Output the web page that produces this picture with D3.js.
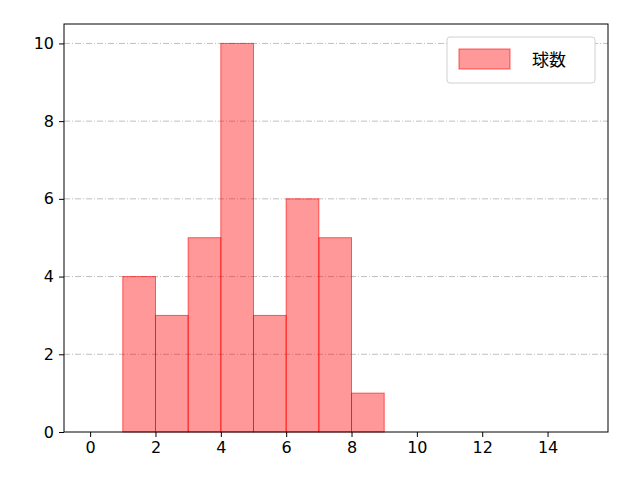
<!DOCTYPE html><html><head><meta charset="utf-8">
<script src="https://cdn.jsdelivr.net/npm/d3@7"></script>
<style>body{margin:0;background:#fff}</style></head><body>
<svg id="c" width="640" height="480"></svg>
<script>
const binStarts=[1,2,3,4,5,6,7,8];
const counts=[4,3,5,10,3,6,5,1];
const xTicks=[0,2,4,6,8,10,12,14];
const yTicks=[0,2,4,6,8,10];
const seriesName="球数";
const svg=d3.select("#c");
const L=64,R=608,T=24,B=432;
const x=d3.scaleLinear().domain([-0.8,15.85]).range([L,R]);
const y=d3.scaleLinear().domain([0,10.5]).range([B,T]);
const font="DejaVu Sans, sans-serif";
svg.append("g").selectAll("line").data(yTicks.slice(1)).join("line")
 .attr("x1",L).attr("x2",R).attr("y1",d=>y(d)).attr("y2",d=>y(d))
 .attr("stroke","#b0b0b0").attr("stroke-width",0.8).attr("stroke-dasharray","6,2,1,2");
svg.append("g").selectAll("rect").data(binStarts).join("rect")
 .attr("x",d=>x(d)).attr("width",d=>x(d+1)-x(d))
 .attr("y",(d,i)=>y(counts[i])).attr("height",(d,i)=>y(0)-y(counts[i]))
 .attr("fill","rgba(255,0,0,0.4)").attr("stroke","rgba(255,0,0,0.6)").attr("stroke-width",1);
const xa=svg.append("g").attr("transform",`translate(0,${B})`).call(d3.axisBottom(x).tickValues(xTicks).tickSize(5).tickPadding(5));
const ya=svg.append("g").attr("transform",`translate(${L},0)`).call(d3.axisLeft(y).tickValues(yTicks).tickSize(5).tickPadding(5));
[xa,ya].forEach(a=>{a.select(".domain").remove();a.selectAll("text").attr("font-size",16).attr("font-family",font).attr("fill","#000");a.selectAll("line").attr("stroke","#000");});
svg.append("rect").attr("x",L).attr("y",T).attr("width",R-L).attr("height",B-T).attr("fill","none").attr("stroke","#000");
const lg=svg.append("g");
lg.append("rect").attr("x",447).attr("y",37).attr("width",148).attr("height",46).attr("rx",3).attr("fill","#fff").attr("stroke","#d0d0d0");
lg.append("rect").attr("x",459).attr("y",49).attr("width",51).attr("height",20).attr("fill","rgba(255,0,0,0.4)").attr("stroke","rgba(255,0,0,0.6)");
lg.append("text").attr("x",532).attr("y",66).attr("font-size",17).attr("font-family","Noto Sans CJK JP").text(seriesName);
</script></body></html>
